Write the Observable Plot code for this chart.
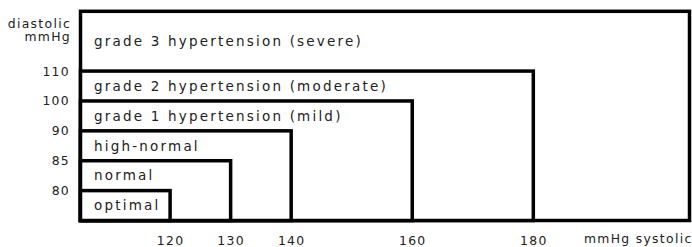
<!DOCTYPE html>
<html>
<head>
<meta charset="utf-8">
<script src="https://cdn.jsdelivr.net/npm/d3@7"></script>
<script src="https://cdn.jsdelivr.net/npm/@observablehq/plot@0.6"></script>
<style>
  html, body { margin: 0; padding: 0; background: #fff; }
  #chart svg { display: block; }
  #chart svg text { letter-spacing: 1.3px; }
  #chart svg .cat text { letter-spacing: 2.2px; }
</style>
</head>
<body>
<div id="chart"></div>
<script>
// Blood pressure classification (systolic / diastolic, mmHg)
const categories = ["grade 3 hypertension (severe)", "grade 2 hypertension (moderate)", "grade 1 hypertension (mild)", "high-normal", "normal", "optimal"];
const systolicUpper = [null, 180, 160, 140, 130, 120];   // null = open-ended (frame)
const diastolicUpper = [null, 110, 100, 90, 85, 80];
const diastolicLower = [110, 100, 90, 85, 80, null];     // null = frame bottom
const xTicks = [120, 130, 140, 160, 180];
const yTicks = [80, 85, 90, 100, 110];
const systolicFrame = [105.2, 205.8];
// diastolic levels are drawn equally spaced on the axis (frame bottom, ticks, two steps of headroom)
const diastolicSteps = [75, 80, 85, 90, 100, 110, 120, 130];
const diastolicFrame = [75, 130];

const level = v => diastolicSteps.indexOf(v);

const rows = categories.map((name, i) => ({
  name,
  x2: systolicUpper[i] ?? systolicFrame[1],
  y2: level(diastolicUpper[i] ?? diastolicFrame[1]),
  y1: level(diastolicLower[i] ?? diastolicFrame[0])
}));

const plot = Plot.plot({
  width: 692,
  height: 247,
  marginLeft: 80.5,
  marginRight: 2.5,
  marginTop: 11.3,
  marginBottom: 26.5,
  style: { fontFamily: "DejaVu Sans, Verdana, sans-serif", fontSize: "12.4px", color: "#222", background: "white" },
  x: { domain: systolicFrame, ticks: xTicks, tickSize: 0, tickPadding: 15, label: null },
  y: { domain: [0, diastolicSteps.length - 1], ticks: yTicks.map(level), tickFormat: i => String(diastolicSteps[i]), tickSize: 0, tickPadding: 11, label: null },
  marks: [
    Plot.rect(rows, {
      x1: () => systolicFrame[0],
      x2: "x2",
      y1: () => level(diastolicFrame[0]),
      y2: "y2",
      fill: "white",
      stroke: "black",
      strokeWidth: 3.5
    }),
    Plot.text(rows, {
      x: () => systolicFrame[0],
      y: d => (d.y1 + d.y2) / 2,
      text: "name",
      textAnchor: "start",
      dx: 13,
      fontSize: 13.5,
      fill: "#222"
    }),
    Plot.text(["diastolic"], {
      frameAnchor: "top-left",
      text: d => d,
      textAnchor: "end",
      dx: -10,
      dy: 7,
      fill: "#222"
    }),
    Plot.text(["mmHg"], {
      frameAnchor: "top-left",
      text: d => d,
      textAnchor: "end",
      dx: -10,
      dy: 20.5,
      fill: "#222"
    }),
    Plot.text(["mmHg systolic"], {
      frameAnchor: "bottom-right",
      text: d => d,
      textAnchor: "end",
      dx: 2.5,
      dy: 21.5,
      fill: "#222"
    })
  ]
});

document.getElementById("chart").appendChild(plot);

const groups = plot.querySelectorAll('g[aria-label="text"]');
if (groups[0]) groups[0].classList.add("cat");
</script>
</body>
</html>
